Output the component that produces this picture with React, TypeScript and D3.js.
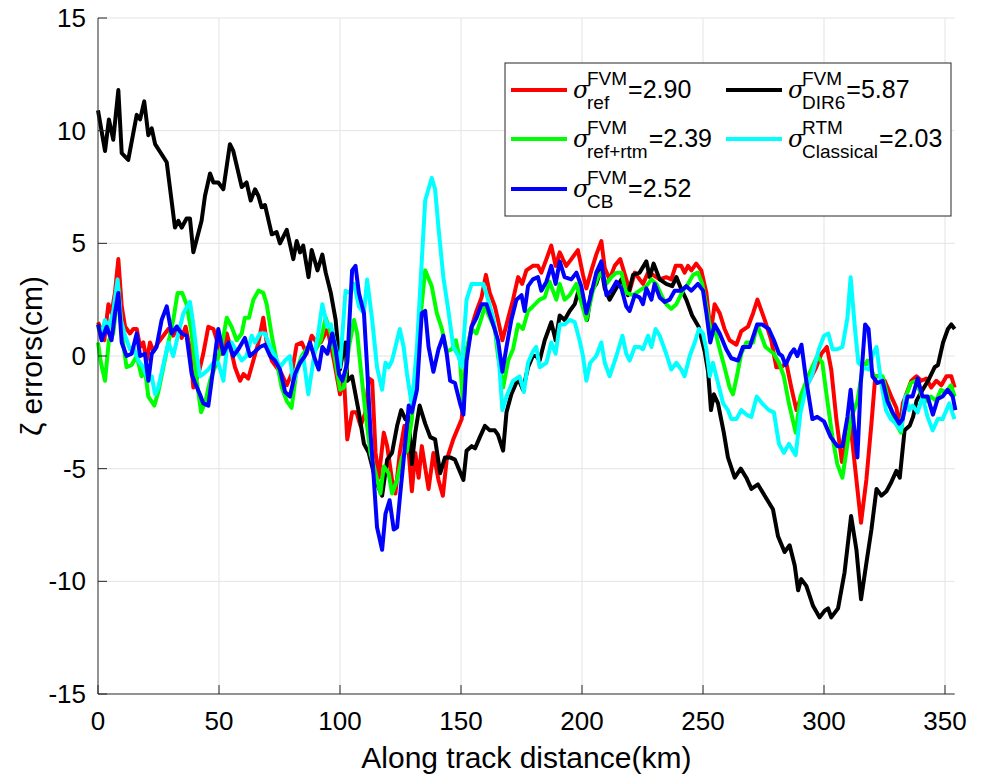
import { useEffect, useRef } from 'react';
import * as d3 from 'd3';

type Pt = [number, number];

// along-track distance (km), error (cm)
const refFVM: Pt[] = [
  [0,1.5],[0.8,1.3],[2.6,0.7],[4.3,2.3],[5.6,1.9],[7,2.8],[8.4,4.3],[9.8,2.2],[11.2,1.3],[13.2,1.0],[14.6,1.2],[16,1.2],[17.4,0.4],[18.7,0.6],[20.1,-0.2],[21.5,0.6],[22.9,0.2],[24.9,0.6],[27,0.9],[29.1,1.2],[31.1,0.9],[32.9,1.3],[34.6,0.8],[36.2,1.3],[38,0.3],[39.4,-1.4],[41.5,-0.8],[43.5,0.1],[45.6,1.3],[47.7,1.2],[49.4,0.6],[51.1,0.1],[53.2,1.0],[54.5,0.5],[56.6,-0.5],[58.7,-1.1],[60.1,-0.8],[62.1,-1.0],[64.2,-0.2],[66.3,0.6],[68.3,1.7],[69.7,0.6],[71.8,-0.2],[73.8,-0.5],[75.9,-0.8],[78,-1.3],[80,-0.8],[82.1,0.5],[84.2,0.6],[86.2,0.1],[88.3,0.9],[90.4,0.6],[92.1,0.6],[94.8,1.2],[97.5,-0.2],[100,-1.7],[101.6,-0.9],[103,-3.7],[105,-2.5],[106.8,-2.5],[108.5,-3.1],[110.5,-2.5],[111.9,-1.0],[113.3,-1.1],[114.7,-4.3],[116,-5.4],[118.1,-3.4],[119.5,-4.0],[121.5,-5.5],[122.9,-6.1],[124.7,-4.3],[126.6,-3.1],[128.1,-3.9],[129.7,-6.0],[131.1,-4.3],[132.5,-5.4],[133.8,-4.0],[136.6,-5.9],[138.6,-4.3],[140.7,-5.5],[142.5,-6.2],[144.1,-4.6],[146.8,-3.7],[150.3,-2.8],[152.3,0.1],[154.4,1.3],[156.4,2.0],[158.5,2.6],[160.3,3.6],[161.9,2.8],[164,2.2],[165.3,1.6],[167.1,0.7],[168.8,1.4],[171.5,2.5],[173.6,3.5],[175.3,3.2],[177,3.8],[179.7,4.0],[181.8,4.0],[183.2,3.7],[185.3,4.3],[187.3,4.9],[189.1,4.0],[190.8,4.6],[192.1,4.3],[193.5,4.0],[195.6,4.3],[198.3,4.7],[200.4,3.6],[201.8,3.0],[203.9,3.8],[205.9,4.5],[208,5.1],[209.4,3.9],[211.4,3.4],[213.5,4.0],[215.8,4.3],[218.3,3.4],[219.7,2.9],[221.8,3.7],[223.8,3.4],[225.2,3.2],[227.3,3.7],[229.3,3.6],[232.1,3.4],[234.8,3.5],[236.9,3.4],[238.7,4.0],[241,4.0],[242.4,3.7],[243.8,4.0],[245.2,3.8],[247.2,4.1],[249.3,3.8],[251.4,2.8],[253.2,1.0],[254.8,2.3],[256.9,1.9],[258.9,1.2],[261,0.7],[263.8,0.5],[265.8,1.1],[268.6,1.3],[270.7,1.9],[272.5,2.5],[275.5,1.6],[278.2,0.7],[280.3,-0.5],[282.4,-0.5],[284.4,-0.3],[286.5,-1.4],[288.6,-2.4],[290.6,-1.8],[293.4,-1.2],[296.8,-0.5],[298.9,0.1],[301.2,0.4],[303,-0.6],[305.1,-2.8],[307.4,-4.7],[310.8,-2.9],[315.3,-7.4],[317.5,-5.5],[319.6,-3.0],[321.2,-0.9],[323,-0.9],[325.1,-1.1],[327.8,-1.8],[329.9,-2.3],[331.3,-3.1],[332.6,-2.1],[334,-1.7],[336.1,-1.1],[338.2,-0.9],[340.2,-1.1],[342.3,-1.0],[344.3,-1.4],[346.4,-1.1],[348.5,-1.3],[350.6,-0.9],[352.6,-0.9],[354,-1.4],
];

const dir6FVM: Pt[] = [
  [0,10.9],[2.9,9.1],[4.5,10.5],[6.3,9.6],[8.4,11.8],[9.8,9.0],[12.5,8.7],[16,10.7],[17.4,10.5],[19.1,11.3],[20.8,9.8],[22.2,10.1],[23.6,9.4],[28.4,8.6],[31.8,5.7],[33.2,6.0],[34.6,5.7],[36.6,6.1],[38,6.1],[39.4,4.6],[42.8,6.0],[44.2,7.1],[46.3,8.1],[47.7,7.7],[49.7,7.7],[51.8,7.4],[54.5,9.4],[55.9,9.1],[59.4,7.5],[61.4,7.7],[63.1,6.9],[64.9,7.4],[66.3,7.1],[67.6,6.6],[69,6.7],[71.8,5.4],[73.8,5.5],[75.2,5.0],[78,5.6],[80.7,4.3],[82.1,5.1],[83.5,4.6],[84.8,4.9],[87,3.5],[88.3,4.7],[90.7,3.8],[92.7,4.5],[94.1,3.7],[96.2,2.8],[98.2,1.6],[100,-0.6],[101.6,0.4],[102.3,0.6],[103,-1.1],[105,-0.9],[107.8,-2.5],[109.9,-3.9],[111.9,-4.3],[114.7,-5.5],[117.4,-6.2],[119.5,-4.6],[121.5,-4.3],[123.6,-3.1],[125.3,-2.4],[127,-2.8],[128.4,-2.7],[129.7,-4.8],[131.1,-3.4],[132.9,-2.2],[135.2,-3.0],[137.3,-3.6],[139.3,-3.7],[141.4,-5.2],[143.4,-4.5],[145.5,-4.5],[147.5,-4.6],[151,-5.5],[152.3,-4.2],[154.4,-4.0],[155.8,-4.1],[157.8,-3.6],[159.9,-3.1],[161.9,-3.3],[164,-3.3],[165.3,-3.5],[167.4,-4.2],[168.8,-2.5],[170.8,-1.7],[173.6,-1.0],[175.6,-1.5],[177.7,-0.5],[179.7,0],[181.1,0],[182.5,-0.2],[184.6,0.7],[187.3,1.5],[189.1,0.7],[190.8,1.8],[192.8,1.6],[194.9,2.0],[197,2.3],[198.3,2.8],[200.4,2.3],[202.1,1.6],[203.9,2.9],[205.9,3.2],[208,3.9],[209.4,3.0],[211.4,2.5],[213.5,2.9],[216.3,3.4],[219,2.7],[221.1,3.6],[223.8,3.7],[226.6,4.2],[228,3.5],[229.6,4.1],[232.1,3.4],[234.8,3.2],[237.3,3.1],[239,3.5],[241.3,2.9],[243.1,2.5],[245.5,1.8],[248.2,1.3],[250.7,0.2],[252.1,-0.7],[253.3,-2.4],[254.5,-1.7],[256.2,-2.1],[258.6,-3.4],[260.3,-4.5],[263.1,-5.4],[265.6,-5.0],[267.9,-5.4],[270,-5.9],[272.7,-5.7],[275.5,-6.2],[278.9,-6.8],[281,-8.0],[283.7,-8.7],[285.8,-8.4],[287.9,-9.3],[289.3,-10.4],[290.6,-9.9],[292.7,-10.2],[295.5,-11.1],[298.2,-11.6],[300.3,-11.3],[301.7,-11.2],[303,-11.6],[305.8,-11.2],[308.5,-9.6],[311.2,-7.1],[313.4,-8.6],[315.3,-10.8],[317.5,-9.2],[319.6,-7.7],[321.7,-5.9],[323.7,-6.2],[325.8,-6.0],[327.8,-5.6],[329.9,-5.1],[331.3,-5.4],[333.3,-3.3],[335.4,-3.1],[336.8,-2.7],[338.2,-2.0],[340.2,-1.6],[343,-1.1],[345.7,-0.5],[347.1,-0.4],[349.2,0.6],[351.2,1.2],[352.6,1.4],[354,1.2],
];

const refRtmFVM: Pt[] = [
  [0,0.6],[1.2,-0.3],[2.9,-1.1],[4.5,0.7],[6.3,1.0],[8.4,3.0],[9.8,1.0],[11.8,-0.5],[13.9,-0.4],[16,0],[18,-0.9],[19.4,-0.6],[20.8,-1.8],[23.3,-2.2],[24.9,-1.6],[27,-0.5],[29.1,0.6],[31.1,1.6],[32.9,2.8],[34.8,2.8],[36.6,2.3],[38.7,1.0],[40.8,-1.1],[42.6,-2.5],[44.2,-2.1],[46.3,-1.1],[48.3,-0.5],[51.1,0.4],[53.2,1.7],[55.2,1.3],[57.3,0.7],[59.4,1.0],[60.7,1.7],[62.4,1.7],[64.2,2.5],[66.3,2.9],[68.3,2.8],[69.7,2.3],[71.8,0.9],[73.8,-0.2],[75.9,-1.4],[78,-2.0],[80,-2.3],[82.1,-0.6],[84.2,0],[86.9,0.4],[89.5,0.2],[92.1,0.7],[94.1,1.7],[96.2,1.0],[98.2,-0.3],[100,-1.5],[101.6,-1.4],[103.7,0.4],[105.8,1.6],[107.1,1.0],[108.5,-0.5],[110.5,-2.5],[112.6,-4.3],[114.7,-5.2],[116.7,-6.1],[118.1,-4.9],[120.1,-5.2],[121.5,-6.1],[123.6,-5.5],[125.6,-4.5],[127.7,-4.2],[129.7,-2.8],[131.8,0.1],[133.4,1.9],[135.2,3.8],[137.9,3.1],[140,1.9],[142.1,1.2],[144.1,0.2],[146.2,0.3],[147.9,0.7],[149.6,-0.2],[151,-2.4],[152.3,0.3],[154.4,1.2],[156.4,1.0],[158.5,1.7],[159.9,2.2],[161.9,1.7],[164,1.2],[165.3,0],[167.4,-1.4],[169.5,-0.2],[171.5,0.3],[173.6,1.4],[175.6,1.2],[177.7,2.0],[179.7,2.2],[182.5,2.5],[184.6,2.6],[186.6,3.3],[189.4,2.5],[190.8,3.2],[192.8,2.5],[194.9,2.7],[197.7,3.2],[199.7,2.4],[201.8,1.6],[204.5,2.9],[206.6,3.5],[208,3.7],[210.1,3.2],[212.1,3.5],[214.2,3.7],[216.3,3.7],[218.3,2.8],[221.1,2.7],[223.8,2.9],[226.6,3.1],[228.7,3.4],[230.7,3.2],[232.8,2.7],[234.8,2.3],[236.9,2.1],[239,2.3],[241.7,2.9],[243.8,3.2],[245.9,3.6],[247.9,3.7],[249.7,3.2],[251.4,2.2],[253,1.2],[254.8,1.2],[256.9,0.3],[258.9,-0.5],[261,-1.4],[262.4,-1.7],[264,-0.9],[265.8,0.1],[267.9,0.6],[270.7,0.6],[272.4,1.4],[275.8,0.4],[279.3,0.1],[281.4,-0.3],[283.4,-0.9],[285.5,-2.1],[288.3,-3.4],[290.3,-1.8],[293.8,-0.8],[297.2,0],[299.3,-0.3],[301.4,-2.0],[303.5,-3.6],[305.5,-4.8],[307.6,-5.4],[309.7,-3.9],[311,-2.8],[313.8,-2.0],[315.9,-0.6],[318,-0.2],[320.7,-0.9],[324.2,-0.9],[326.9,-2.1],[329.7,-3.0],[331.8,-3.4],[333.8,-1.8],[335.9,-1.2],[338,-1.1],[340.1,-1.7],[342.1,-2.0],[344.2,-1.8],[346.3,-2.0],[348.3,-1.5],[350.4,-1.6],[352.5,-1.3],[354,-1.8],
];

const classicalRTM: Pt[] = [
  [0,1.3],[1.5,1.0],[2.9,1.6],[4.5,1.2],[6.3,2.0],[8.1,3.4],[9.5,1.6],[11.2,0.9],[13.2,0.3],[14.6,0.4],[16.7,-0.2],[18.7,-0.5],[20.8,-1.1],[22.2,-0.9],[23.6,-1.7],[24.9,-1.4],[27,-0.4],[29.1,0.6],[31.1,0],[33.2,1.0],[35.3,1.9],[38,2.4],[39.4,1.4],[40.8,0.1],[42.1,-0.9],[43.5,-0.8],[45.6,-0.6],[47.7,-0.3],[49.7,-0.3],[51.8,-1.1],[53.2,0.3],[55.2,0.6],[57.3,0.2],[59.4,-0.2],[61.4,0],[63.5,0.9],[64.9,0.6],[66.9,1.0],[69,1.0],[71.1,0.4],[73.1,0],[75.2,-0.5],[77.3,-0.2],[79.3,0],[80.7,-1.2],[82.8,-0.5],[84.8,0],[86.9,-1.7],[89,-0.2],[91,1.0],[92.7,2.3],[94.8,1.3],[96.2,1.4],[98.2,0.4],[100,-0.5],[102.3,2.9],[104.1,2.8],[105.8,3.2],[107.8,2.2],[109.9,1.9],[111.2,3.4],[113.3,1.6],[115.3,-0.5],[117.4,-1.5],[118.8,-0.3],[120.1,-0.5],[121.5,-0.2],[122.9,0.4],[124.7,1.2],[126.3,0.4],[127.7,-0.8],[129.7,-2.2],[131.8,0.4],[133.2,3.1],[135.2,6.9],[137.9,7.9],[139.3,7.4],[140.7,5.7],[142.7,3.5],[144.8,2.0],[146.8,0.4],[148.9,0],[150.3,-0.5],[152.3,2.5],[154.4,3.2],[156.4,3.2],[159.2,3.2],[161.2,2.5],[163.3,1.7],[165.3,0.4],[167.1,-2.4],[168.8,-1.8],[171.5,-1.1],[174.2,-0.9],[176,-1.6],[177.7,-0.3],[179.7,0.2],[181.1,0.4],[182.5,-0.5],[185.3,-0.3],[187.3,0.6],[189.1,0.1],[190.8,1.4],[192.8,1.4],[194.9,1.6],[197,1.5],[199,0.7],[200.4,0],[201.8,-1.1],[203.4,-0.3],[205.9,0],[208,0.6],[209.4,-0.3],[211.4,-0.9],[214.2,0],[216.7,0.9],[218.3,0.1],[219.7,-0.2],[221.8,0.4],[223.8,0.4],[225.2,0.3],[227.3,0.9],[228.7,0.4],[230.4,1.2],[232.1,0.9],[234.8,0.1],[236.9,-0.6],[239,-0.3],[241,-0.6],[242.4,-0.9],[244.5,0],[246.6,0.6],[248.3,1.2],[250,1.0],[251.4,0.3],[252.8,-0.9],[254.1,-0.3],[256.2,-1.2],[258.3,-2.1],[260.3,-2.4],[261.7,-2.8],[263.8,-2.8],[265.8,-2.4],[267.9,-2.6],[270,-2.7],[272.2,-1.8],[274.4,-2.1],[277.2,-2.4],[279.3,-2.5],[281.4,-3.9],[283.4,-4.3],[285.5,-3.9],[288.3,-4.4],[290.3,-2.5],[292.4,-1.5],[295.2,-0.8],[297.9,0.3],[300,0.9],[301.8,1.0],[303.5,0.3],[305.5,0.3],[307.6,0.4],[309.7,1.7],[311,3.5],[312.8,1.2],[314.2,-0.3],[316.2,-0.5],[318.6,-0.6],[320.3,0.1],[321.7,0.4],[323.5,-1.1],[325.6,-2.4],[327.6,-2.8],[329.7,-3.0],[331.8,-3.3],[333.6,-1.8],[335.2,-2.4],[336.6,-2.2],[338.7,-2.5],[340.7,-1.8],[342.8,-2.7],[344.9,-3.3],[347,-2.8],[349,-2.8],[351.8,-2.1],[353.9,-2.8],
];

const cbFVM: Pt[] = [
  [0,1.4],[1.5,0.7],[3.6,1.3],[5.6,0.7],[7,1.9],[8.4,2.8],[9.8,0.6],[11.8,0],[13.9,0.1],[16,1.0],[17.4,0],[19.4,0.1],[20.8,-1.1],[22.2,0.1],[24.2,0.4],[26.3,1.6],[28.4,2.2],[30.4,1.0],[32.5,1.3],[34.6,1.0],[36.6,0.9],[38.7,-0.8],[40.1,-1.2],[42.1,-1.7],[43.5,-2.1],[45.6,-2.2],[47.7,-0.5],[49.7,1.2],[51.8,0.1],[53.9,0.6],[55.9,0],[58,0.3],[60.7,0.8],[62.8,0],[64.9,0.2],[66.9,0.4],[69,0.5],[71.1,0],[73.1,-0.2],[75.2,-0.6],[77.3,-1.6],[79.3,-1.8],[81.4,-0.8],[83.5,-0.3],[85.5,0],[87.6,0.6],[89.5,-0.1],[91.2,-0.6],[92.7,0.4],[94.8,0.1],[96.8,1.0],[98.2,0.3],[99.6,-0.8],[101,-1.1],[103,-0.3],[105,3.8],[106.4,4.0],[107.8,2.8],[109.9,1.9],[111.2,-0.5],[112.6,-3.4],[114,-5.5],[115.3,-7.6],[117.4,-8.6],[118.8,-7.0],[120.5,-6.4],[122.2,-7.7],[123.6,-7.6],[124.9,-6.1],[126.3,-4.6],[128.4,-2.2],[129.7,-2.5],[131.8,-1.5],[132.9,0.4],[133.8,1.9],[135.2,2.0],[136.6,0.4],[138.6,-0.7],[140.7,0.3],[142.7,0.9],[144.1,0.1],[145.5,-1.1],[147.5,-1.2],[149.6,-2.1],[151,-2.6],[152.3,-0.2],[154.4,1.3],[156.4,1.7],[158.5,2.3],[160.5,2.3],[163.3,1.4],[165.3,0.7],[167.1,-0.7],[168.8,0.4],[170.8,1.6],[172.9,2.5],[175,2.7],[176.3,2.0],[177.7,3.1],[179.7,3.4],[181.8,3.5],[183.2,2.9],[185.3,3.3],[187.3,4.0],[189.1,3.2],[190.8,4.2],[192.8,3.5],[195.6,3.4],[197.7,3.7],[199.7,3.1],[201.8,1.9],[203.9,2.8],[205.9,3.7],[208,4.2],[210.1,2.7],[212.1,2.9],[214.2,3.3],[216.3,3.0],[218.3,2.2],[219.7,2.0],[221.8,2.7],[223.8,2.6],[225.2,2.3],[226.6,3.0],[228.7,2.5],[230,3.2],[232.1,2.6],[234.2,2.4],[236.2,2.5],[238.3,2.9],[241,2.9],[243.1,3.1],[245.2,2.9],[247.9,3.2],[250,2.9],[251.4,1.9],[253,0.6],[254.8,1.4],[256.9,1.0],[259.6,0.3],[261.7,-0.1],[264.5,-0.2],[266.5,0.4],[269.3,0.4],[272.4,1.4],[274.4,1.4],[277.2,1.2],[279.3,0.7],[281.4,0.1],[282.7,0],[284.1,-0.4],[286.2,0.1],[287.6,0.3],[289,0],[290.7,0.5],[292.4,-0.9],[295.2,-2.8],[297.2,-2.7],[300,-2.9],[302.8,-3.6],[305.5,-4.0],[307.6,-4.0],[309.7,-2.7],[311,-1.5],[312.4,-3.1],[313.8,-4.5],[315.2,-1.2],[317,1.4],[318.4,1.2],[320,-0.9],[322.1,-1.2],[324.2,-1.1],[326.2,-2.0],[328.3,-2.5],[331.1,-3.0],[332.5,-2.8],[334.5,-1.8],[336.6,-1.8],[338.7,-1.0],[340.7,-1.8],[342.8,-1.8],[345,-2.6],[347,-1.9],[349,-1.8],[351.1,-1.5],[353.2,-1.8],[354.3,-2.4],
];

const xTicks = [0, 50, 100, 150, 200, 250, 300, 350];
const yTicks = [-15, -10, -5, 0, 5, 10, 15];

// legend order is row-major (2 columns), same as plotting order
const series = [
  { key: 'ref', color: '#ff0000', data: refFVM, sup: 'FVM', sub: 'ref', value: '2.90' },
  { key: 'dir6', color: '#000000', data: dir6FVM, sup: 'FVM', sub: 'DIR6', value: '5.87' },
  { key: 'refrtm', color: '#00ff00', data: refRtmFVM, sup: 'FVM', sub: 'ref+rtm', value: '2.39' },
  { key: 'classical', color: '#00ffff', data: classicalRTM, sup: 'RTM', sub: 'Classical', value: '2.03' },
  { key: 'cb', color: '#0000ff', data: cbFVM, sup: 'FVM', sub: 'CB', value: '2.52' },
];

const W = 982;
const H = 776;
const FONT = 'Liberation Sans, Arial, Helvetica, sans-serif';

export default function App() {
  const svgRef = useRef<SVGSVGElement>(null);

  useEffect(() => {
    const svg = d3.select(svgRef.current);
    if (!svg.node()) return;
    svg.selectAll('*').remove();

    const left = 98, top = 18, bottom = 694;
    const x = d3.scaleLinear().domain([0, 354]).range([left, left + 354 * 2.42]);
    const y = d3.scaleLinear().domain([-15, 15]).range([bottom, top]);
    const right = x(354);
    const axisColor = '#262626';

    // grid
    const grid = svg.append('g');
    grid.selectAll('line.gx')
      .data(xTicks.filter((t) => t > 0))
      .join('line')
      .attr('x1', (d) => x(d)).attr('x2', (d) => x(d))
      .attr('y1', top).attr('y2', bottom)
      .attr('stroke', '#e3e3e3').attr('stroke-width', 1);
    grid.selectAll('line.gy')
      .data(yTicks.filter((t) => t > -15))
      .join('line')
      .attr('x1', left).attr('x2', right)
      .attr('y1', (d) => y(d)).attr('y2', (d) => y(d))
      .attr('stroke', '#e3e3e3').attr('stroke-width', 1);

    // data lines
    const line = d3.line<Pt>().x((d) => x(d[0])).y((d) => y(d[1]));
    svg.append('g')
      .selectAll('path')
      .data(series)
      .join('path')
      .attr('d', (s) => line(s.data))
      .attr('fill', 'none')
      .attr('stroke', (s) => s.color)
      .attr('stroke-width', 4)
      .attr('stroke-linejoin', 'round');

    // axes (box off, ticks inward)
    const axes = svg.append('g').attr('stroke', axisColor).attr('stroke-width', 1);
    axes.append('line').attr('x1', left).attr('x2', right).attr('y1', bottom).attr('y2', bottom);
    axes.append('line').attr('x1', left).attr('x2', left).attr('y1', top).attr('y2', bottom);
    axes.selectAll('line.tx')
      .data(xTicks)
      .join('line')
      .attr('x1', (d) => x(d)).attr('x2', (d) => x(d))
      .attr('y1', bottom).attr('y2', bottom - 9);
    axes.selectAll('line.ty')
      .data(yTicks)
      .join('line')
      .attr('x1', left).attr('x2', left + 9)
      .attr('y1', (d) => y(d)).attr('y2', (d) => y(d));

    const labels = svg.append('g').attr('font-family', FONT).attr('fill', '#000');
    labels.selectAll('text.xt')
      .data(xTicks)
      .join('text')
      .attr('x', (d) => x(d)).attr('y', bottom + 36)
      .attr('text-anchor', 'middle')
      .attr('font-size', 26)
      .text((d) => d);
    labels.selectAll('text.yt')
      .data(yTicks)
      .join('text')
      .attr('x', left - 12).attr('y', (d) => y(d) + 9)
      .attr('text-anchor', 'end')
      .attr('font-size', 26)
      .text((d) => d);
    labels.append('text')
      .attr('x', (left + right) / 2).attr('y', 768)
      .attr('text-anchor', 'middle')
      .attr('font-size', 30)
      .text('Along track distance(km)');
    labels.append('text')
      .attr('transform', `translate(42,${y(0)}) rotate(-90)`)
      .attr('text-anchor', 'middle')
      .attr('font-size', 30)
      .text('\u03B6 errors(cm)');

    // legend
    const lg = svg.append('g').attr('font-family', FONT);
    lg.append('rect')
      .attr('x', 505).attr('y', 63).attr('width', 446).attr('height', 153)
      .attr('fill', '#fff').attr('stroke', axisColor).attr('stroke-width', 1);
    const colX = [511, 726];
    const rowY = [90, 139, 189];
    series.forEach((s, i) => {
      const cx = colX[i % 2];
      const cy = rowY[Math.floor(i / 2)];
      const g = lg.append('g');
      g.append('line')
        .attr('x1', cx).attr('x2', cx + 56).attr('y1', cy).attr('y2', cy)
        .attr('stroke', s.color).attr('stroke-width', 4);
      g.append('text')
        .attr('x', cx + 62).attr('y', cy + 8)
        .attr('font-size', 24).attr('font-style', 'italic')
        .attr('font-family', 'DejaVu Serif, serif')
        .text('\u03C3');
      const sx = cx + 76;
      const sup = g.append('text')
        .attr('x', sx).attr('y', cy - 5)
        .attr('font-size', 19)
        .text(s.sup);
      const sub = g.append('text')
        .attr('x', sx).attr('y', cy + 19)
        .attr('font-size', 19)
        .text(s.sub);
      const wSup = (sup.node() as SVGTextElement).getComputedTextLength();
      const wSub = (sub.node() as SVGTextElement).getComputedTextLength();
      g.append('text')
        .attr('x', sx + Math.max(wSup, wSub) + 1).attr('y', cy + 8)
        .attr('font-size', 25)
        .text(`=${s.value}`);
    });
  }, []);

  return (
    <svg
      ref={svgRef}
      width={W}
      height={H}
      style={{ position: 'absolute', left: 0, top: 0, background: '#fff' }}
    />
  );
}
